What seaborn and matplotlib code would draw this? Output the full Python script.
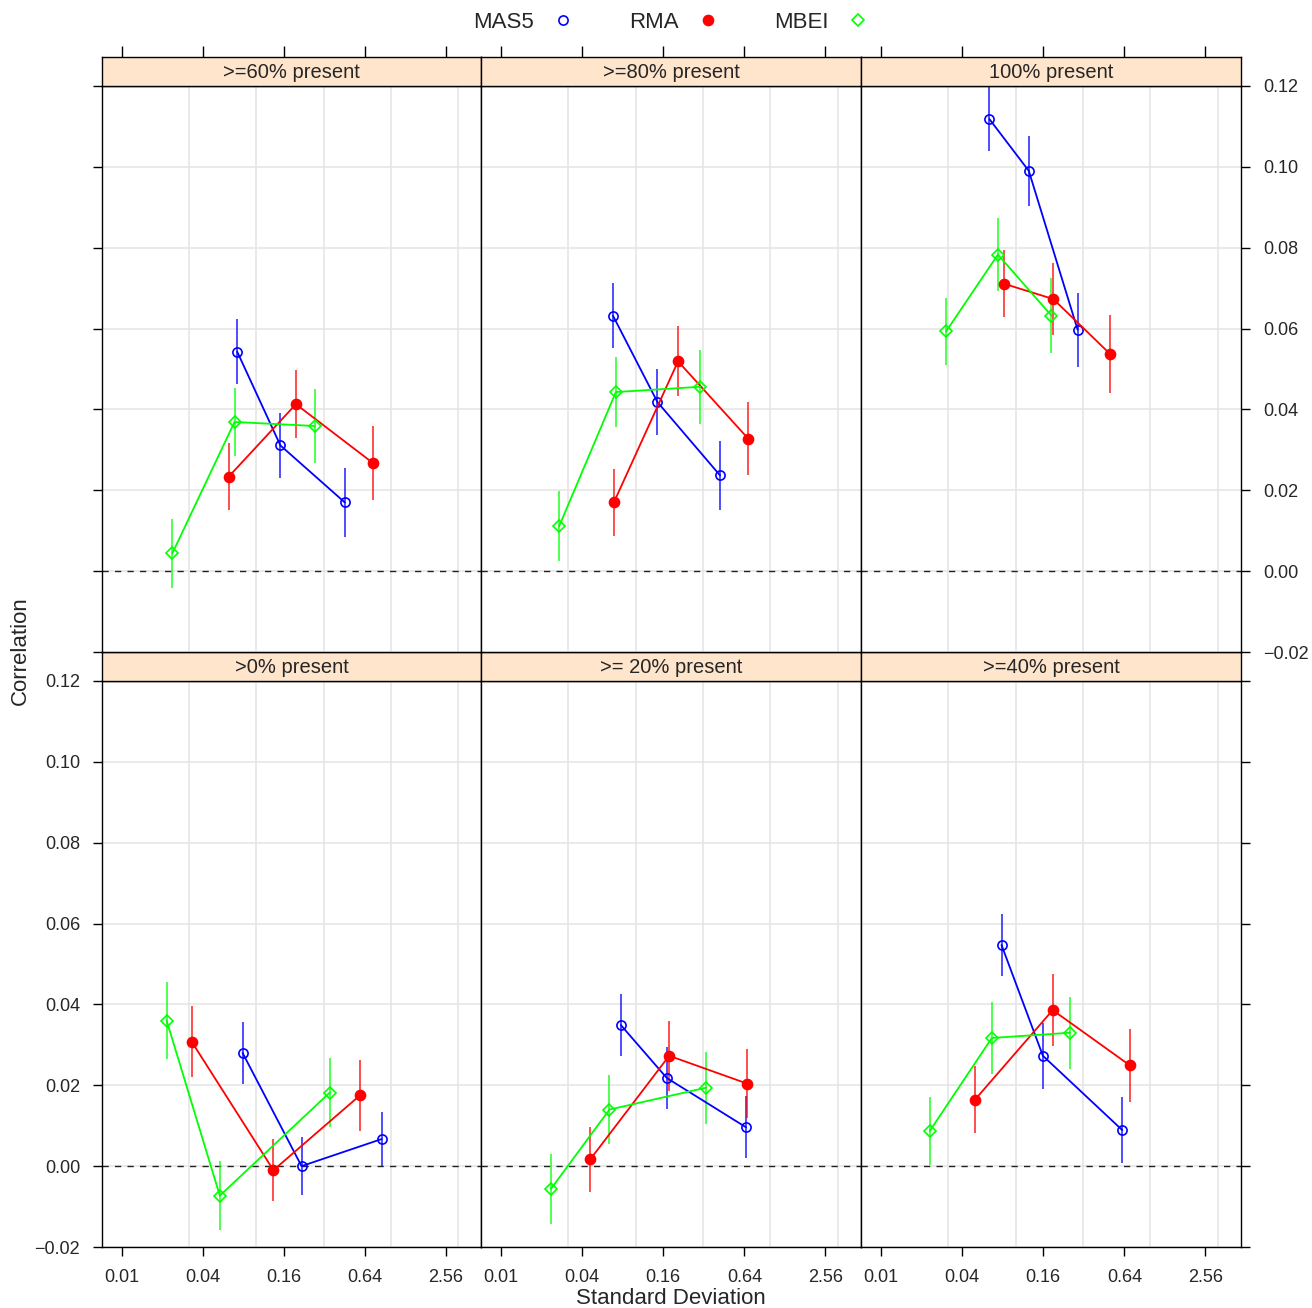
import numpy as np
import pandas as pd
import matplotlib
matplotlib.use("Agg")
import matplotlib.pyplot as plt
import seaborn as sns
from matplotlib.lines import Line2D
from matplotlib.ticker import NullLocator, NullFormatter

# ---------------- data ----------------
panels = [">0% present", ">= 20% present", ">=40% present",
          ">=60% present", ">=80% present", "100% present"]
methods = ["MAS5", "RMA", "MBEI"]

mas5_sd = [[0.079, 0.217, 0.856], [0.0775, 0.170, 0.659], [0.0784, 0.159, 0.618],
           [0.072, 0.151, 0.455], [0.0677, 0.145, 0.422], [0.0638, 0.125, 0.288]]
mas5_cor = [[0.0280, 0.0000, 0.0067], [0.0349, 0.0218, 0.0096], [0.0547, 0.0273, 0.0089],
            [0.0543, 0.0311, 0.0170], [0.0632, 0.0418, 0.0237], [0.1118, 0.0990, 0.0597]]
mas5_err = [[0.0077, 0.0071, 0.0067], [0.0077, 0.0077, 0.0077], [0.0077, 0.0081, 0.0082],
            [0.0080, 0.0081, 0.0086], [0.0080, 0.0082, 0.0085], [0.0080, 0.0086, 0.0092]]

rma_sd = [[0.033, 0.134, 0.590], [0.046, 0.177, 0.673], [0.0497, 0.188, 0.705],
          [0.0624, 0.197, 0.734], [0.0688, 0.206, 0.682], [0.0816, 0.190, 0.502]]
rma_cor = [[0.0308, -0.0010, 0.0175], [0.0017, 0.0273, 0.0204], [0.0164, 0.0386, 0.0249],
           [0.0234, 0.0413, 0.0268], [0.0170, 0.0519, 0.0328], [0.0711, 0.0673, 0.0537]]
rma_err = [[0.0087, 0.0077, 0.0087], [0.0081, 0.0086, 0.0086], [0.0083, 0.0089, 0.0091],
           [0.0083, 0.0084, 0.0091], [0.0083, 0.0087, 0.0090], [0.0083, 0.0090, 0.0096]]

mbei_sd = [[0.0215, 0.0535, 0.352], [0.0235, 0.0638, 0.332], [0.0230, 0.0664, 0.253],
           [0.0237, 0.0688, 0.272], [0.0270, 0.0712, 0.300], [0.0304, 0.0737, 0.184]]
mbei_cor = [[0.0360, -0.0073, 0.0182], [-0.0056, 0.0140, 0.0194], [0.0087, 0.0317, 0.0330],
            [0.0044, 0.0369, 0.0359], [0.0111, 0.0443, 0.0456], [0.0593, 0.0783, 0.0632]]
mbei_err = [[0.0096, 0.0085, 0.0086], [0.0086, 0.0086, 0.0089], [0.0085, 0.0088, 0.0089],
            [0.0086, 0.0085, 0.0092], [0.0086, 0.0086, 0.0091], [0.0082, 0.0090, 0.0093]]

xticks = [0.01, 0.04, 0.16, 0.64, 2.56]
xtick_labels = ["0.01", "0.04", "0.16", "0.64", "2.56"]
yticks = [-0.02, 0.0, 0.02, 0.04, 0.06, 0.08, 0.10, 0.12]
ytick_labels = ["\u22120.02", "0.00", "0.02", "0.04", "0.06", "0.08", "0.10", "0.12"]
xgrid = [10 ** -2, 10 ** -1.5, 10 ** -1, 10 ** -0.5, 10 ** 0, 10 ** 0.5]

# ---------------- table ----------------
rows = []
src = {"MAS5": (mas5_sd, mas5_cor, mas5_err),
       "RMA": (rma_sd, rma_cor, rma_err),
       "MBEI": (mbei_sd, mbei_cor, mbei_err)}
for pi, p in enumerate(panels):
    for m in methods:
        sds, cors, errs = src[m]
        for s, c, e in zip(sds[pi], cors[pi], errs[pi]):
            rows.append({"panel": p, "method": m, "sd": s, "cor": c, "err": e})
df = pd.DataFrame(rows)

# ---------------- style ----------------
sns.set_style("white")
plt.rcParams["font.family"] = ["Liberation Sans", "DejaVu Sans"]

colors = {"MAS5": "#0000FF", "RMA": "#FF0000", "MBEI": "#00FF00"}
markers = {"MAS5": "o", "RMA": "o", "MBEI": "D"}
msizes = {"MAS5": 6.6, "RMA": 7.2, "MBEI": 6.4}
filled = {"MAS5": False, "RMA": True, "MBEI": False}

W, H = 1312, 1308
fig = plt.figure(figsize=(W / 100, H / 100), dpi=100)

lefts = [102, 481, 861]
rights = [481, 861, 1241]
xlo, xhi = 0.01 * 2 ** -0.494, 0.01 * 2 ** 8.876
tick_len = 6.2

for pi, p in enumerate(panels):
    row = 0 if pi >= 3 else 1
    col = pi % 3
    l, r = lefts[col], rights[col]
    top = 86 if row == 0 else 681
    bot = 652 if row == 0 else 1247
    ax = fig.add_axes([l / W, 1 - bot / H, (r - l) / W, (bot - top) / H])
    sax = fig.add_axes([l / W, 1 - top / H, (r - l) / W, 29 / H])

    sub = df[df["panel"] == p]
    ax.axhline(0, color="#222222", lw=1.0, ls=(0, (4.5, 4.5)), zorder=1.5)
    for m in methods:
        d = sub[sub["method"] == m]
        ax.vlines(d["sd"], d["cor"] - d["err"], d["cor"] + d["err"],
                  colors=colors[m], lw=1.3, alpha=0.75, zorder=2)
        sns.lineplot(data=d, x="sd", y="cor", ax=ax, color=colors[m], lw=1.3,
                     marker=markers[m], markersize=msizes[m],
                     markerfacecolor=colors[m] if filled[m] else "none",
                     markeredgecolor=colors[m], markeredgewidth=1.2,
                     estimator=None, sort=False, legend=False, zorder=3)

    ax.set_xscale("log", base=2)
    ax.set_xlim(xlo, xhi)
    ax.set_ylim(-0.02, 0.12)
    ax.set_xticks(xticks)
    ax.set_xticklabels(xtick_labels)
    ax.set_xticks(xgrid, minor=True)
    ax.xaxis.set_minor_formatter(NullFormatter())
    ax.yaxis.set_minor_locator(NullLocator())
    ax.set_yticks(yticks)
    ax.set_yticklabels(ytick_labels)
    ax.set_xlabel("")
    ax.set_ylabel("")
    ax.grid(False)
    ax.grid(True, which="minor", axis="x", color="#E6E6E6", lw=1.2, zorder=0)
    ax.grid(True, which="major", axis="y", color="#E6E6E6", lw=1.2, zorder=0)
    ax.set_axisbelow(True)
    ax.tick_params(which="minor", length=0)
    ax.tick_params(axis="x", which="major", direction="out", length=tick_len, width=1,
                   color="black", labelsize=13, top=False,
                   bottom=(row == 1), labelbottom=(row == 1), pad=10)
    ax.tick_params(axis="y", which="major", direction="out", length=tick_len, width=1,
                   color="black", labelsize=13,
                   left=(col == 0), right=(col == 2),
                   labelleft=(col == 0 and row == 1),
                   labelright=(col == 2 and row == 0), pad=9.5)
    for s in ax.spines.values():
        s.set_color("black")
        s.set_linewidth(1.0)

    sax.set_facecolor("#FFE5CC")
    sax.set_xscale("log", base=2)
    sax.set_xlim(xlo, xhi)
    sax.set_yticks([])
    sax.xaxis.set_minor_locator(NullLocator())
    sax.xaxis.set_minor_formatter(NullFormatter())
    if row == 0:
        sax.set_xticks(xticks)
        sax.tick_params(axis="x", direction="out", length=tick_len + 1.5, width=1, color="black",
                        top=True, bottom=False, labeltop=False, labelbottom=False)
    else:
        sax.set_xticks([])
    for s in sax.spines.values():
        s.set_color("black")
        s.set_linewidth(1.0)
    sax.text(0.5, 0.47, p, transform=sax.transAxes, ha="center", va="center",
             fontsize=14.5)

fig.text(671 / W, 1 - 1298 / H, "Standard Deviation", ha="center", va="center", fontsize=16)
fig.text(20 / W, 1 - 651 / H, "Correlation", ha="center", va="center",
         rotation=90, fontsize=16)

handles = [Line2D([], [], ls="none", marker=markers[m], markersize=msizes[m],
                  markerfacecolor=colors[m] if filled[m] else "none",
                  markeredgecolor=colors[m], markeredgewidth=1.2) for m in methods]
fig.legend(handles, methods, loc="center", bbox_to_anchor=(671 / W, 1 - 22 / H),
           ncol=3, markerfirst=False, frameon=False, fontsize=16,
           handlelength=1.0, handletextpad=0.8, columnspacing=2.5)

fig.savefig("out.png", dpi=100)
